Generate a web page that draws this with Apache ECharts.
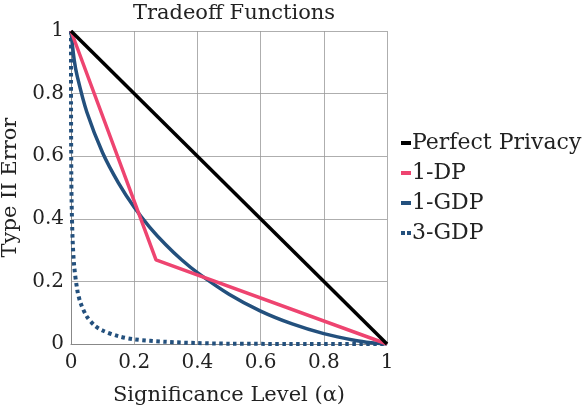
<!DOCTYPE html>
<html><head><meta charset="utf-8">
<script src="https://cdn.jsdelivr.net/npm/echarts@6/dist/echarts.min.js"></script>
<style>html,body{margin:0;padding:0;background:#fff}#c{width:588px;height:412px}</style>
</head><body><div id="c"></div>
<script>
const seriesNames = ['Perfect Privacy', '1-DP', '1-GDP', '3-GDP'];
const tickLabels = ['0', '0.2', '0.4', '0.6', '0.8', '1'];
const perfectX = [0, 1];
const perfectY = [1, 0];
const dpX = [0, 0.269, 1];
const dpY = [1, 0.269, 0];
const gdp1X = [0, 0.01, 0.02, 0.05, 0.1, 0.15, 0.2, 0.25, 0.3, 0.35, 0.4, 0.5, 0.6, 0.7, 0.8, 0.9, 0.95, 1];
const gdp1Y = [1, 0.908, 0.854, 0.741, 0.611, 0.515, 0.437, 0.372, 0.317, 0.269, 0.228, 0.159, 0.105, 0.064, 0.033, 0.011, 0.004, 0];
const gdp3X = [0, 0.0001, 0.001, 0.002, 0.005, 0.01, 0.02, 0.03, 0.05, 0.075, 0.1, 0.15, 0.2, 0.3, 0.4, 0.5, 0.7, 1];
const gdp3Y = [1, 0.764, 0.536, 0.452, 0.336, 0.250, 0.172, 0.132, 0.088, 0.059, 0.043, 0.025, 0.015, 0.007, 0.003, 0.001, 0.0002, 0];

const FONT = "'DejaVu Serif', serif";
const colors = ['#000000', '#ee4470', '#23507d', '#23507d'];
const pairs = (xs, ys) => xs.map((x, i) => [x, ys[i]]);
const lineTypes = ['solid', 'solid', 'solid', [3.5, 3.5]];
const legendIcons = ['rect', 'rect', 'rect', 'path://M0,0h4v4h-4zM6,0h4v4h-4z'];
const dataSets = [pairs(perfectX, perfectY), pairs(dpX, dpY), pairs(gdp1X, gdp1Y), pairs(gdp3X, gdp3Y)];

const chart = echarts.init(document.getElementById('c'), null, {renderer: 'canvas'});
const axisCommon = {
  min: 0, max: 1, interval: 0.2,
  axisLine: {show: true, lineStyle: {color: '#888', width: 1}},
  axisTick: {show: false},
  splitLine: {show: true, lineStyle: {color: '#999', width: 0.8}},
  axisLabel: {color: '#222', fontFamily: FONT, fontSize: 20,
    formatter: v => tickLabels[Math.round(v * 5)]},
  nameTextStyle: {color: '#222', fontFamily: FONT, fontSize: 21}
};
chart.setOption({
  animation: false,
  title: {text: 'Tradeoff Functions', left: 229, top: -2, textAlign: 'center',
    textStyle: {fontFamily: FONT, fontSize: 21, fontWeight: 'normal', color: '#222'}},
  grid: {left: 71, right: 201, top: 31, bottom: 68, containLabel: false, outerBoundsMode: 'none'},
  xAxis: Object.assign({}, axisCommon, {type: 'value', name: 'Significance Level (α)',
    nameLocation: 'middle', nameGap: 41, axisLabel: Object.assign({}, axisCommon.axisLabel, {margin: 9})}),
  yAxis: Object.assign({}, axisCommon, {type: 'value', name: 'Type II Error',
    nameLocation: 'middle', nameGap: 50, axisLabel: Object.assign({}, axisCommon.axisLabel, {margin: 7})}),
  legend: {orient: 'vertical', left: 396, top: 127, itemGap: 8, itemWidth: 10, itemHeight: 4,
    textStyle: {fontFamily: FONT, fontSize: 22, color: '#222', padding: [0, 0, 0, -4]},
    data: seriesNames.map((n, i) => ({name: n, icon: legendIcons[i], itemStyle: {color: colors[i]}}))},
  series: seriesNames.map((n, i) => ({
    name: n, type: 'line', data: dataSets[i], showSymbol: false, symbol: 'none',
    smooth: i >= 2 ? 0.3 : false,
    lineStyle: {color: colors[i], width: i === 3 ? 4 : 3.5, type: lineTypes[i]},
    itemStyle: {color: colors[i]}, z: 10 - i
  }))
});
</script></body></html>
